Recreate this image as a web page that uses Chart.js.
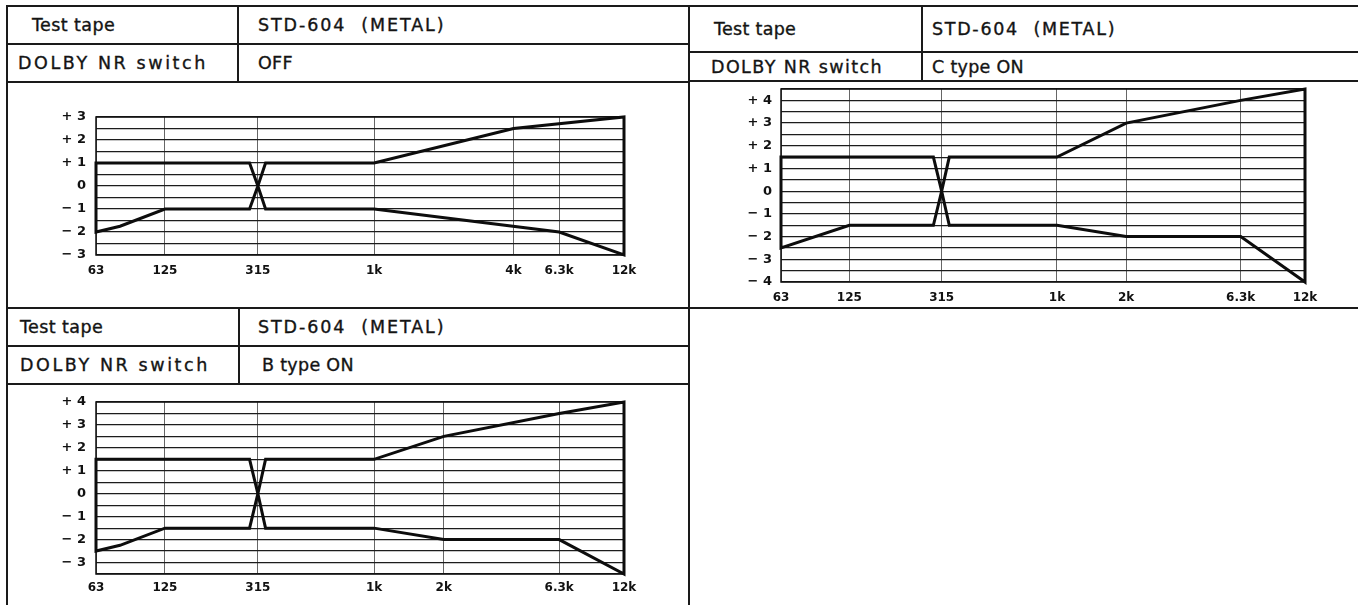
<!DOCTYPE html>
<html>
<head>
<meta charset="utf-8">
<title>STD-604 (METAL) playback response limits</title>
<script src="https://cdn.jsdelivr.net/npm/chart.js@4.4.1/dist/chart.umd.min.js"></script>
<style>
  html, body { margin: 0; padding: 0; background: #fff; }
  #page { position: relative; width: 1358px; height: 605px; overflow: hidden; background: #fff; }
  .ln { position: absolute; background: #1a1a1a; }
  .cell { position: absolute; display: flex; align-items: center; white-space: pre;
          font-family: "DejaVu Sans", sans-serif; font-size: 17.5px; color: #141414;
          -webkit-text-stroke: 0.35px #141414; }
  canvas { position: absolute; }
</style>
</head>
<body>
<div id="page"></div>
<script>
// ---- table text ----
const tapeLabel = 'Test tape';
const tapeName = 'STD-604  (METAL)';
const nrLabel = 'DOLBY NR switch';
const nrModes = ['OFF', 'C type ON', 'B type ON'];

// ---- frequency axis (Hz) and its labels, per graph ----
const offXTicks = [63, 125, 315, 1000, 4000, 6300, 12000];
const offXLabels = ['63', '125', '315', '1k', '4k', '6.3k', '12k'];
const cXTicks = [63, 125, 315, 1000, 2000, 6300, 12000];
const cXLabels = ['63', '125', '315', '1k', '2k', '6.3k', '12k'];
const bXTicks = [63, 125, 315, 1000, 2000, 6300, 12000];
const bXLabels = ['63', '125', '315', '1k', '2k', '6.3k', '12k'];

// ---- level axis (dB): labelled values and their texts ----
const offYValues = [3, 2, 1, 0, -1, -2, -3];
const offYLabels = ['+ 3', '+ 2', '+ 1', '0', '− 1', '− 2', '− 3'];
const cYValues = [4, 3, 2, 1, 0, -1, -2, -3, -4];
const cYLabels = ['+ 4', '+ 3', '+ 2', '+ 1', '0', '− 1', '− 2', '− 3', '− 4'];
const bYValues = [4, 3, 2, 1, 0, -1, -2, -3];
const bYLabels = ['+ 4', '+ 3', '+ 2', '+ 1', '0', '− 1', '− 2', '− 3'];
const offYRange = [-3, 3];
const cYRange = [-4, 4.5];
const bYRange = [-3.5, 4];

// ---- tolerance limits, Dolby NR OFF ----
const offUpperHz = [63, 290, 315, 340, 1000, 4000, 12000];
const offUpperDb = [1, 1, 0, 1, 1, 2.5, 3];
const offLowerHz = [63, 80, 125, 290, 315, 340, 1000, 6300, 12000];
const offLowerDb = [-2, -1.75, -1, -1, 0, -1, -1, -2, -3];

// ---- tolerance limits, Dolby C ----
const cUpperHz = [63, 290, 315, 340, 1000, 2000, 6300, 12000];
const cUpperDb = [1.5, 1.5, 0, 1.5, 1.5, 3, 4, 4.5];
const cLowerHz = [63, 125, 290, 315, 340, 1000, 2000, 6300, 12000];
const cLowerDb = [-2.5, -1.5, -1.5, 0, -1.5, -1.5, -2, -2, -4];

// ---- tolerance limits, Dolby B ----
const bUpperHz = [63, 290, 315, 340, 1000, 2000, 6300, 12000];
const bUpperDb = [1.5, 1.5, 0, 1.5, 1.5, 2.5, 3.5, 4];
const bLowerHz = [63, 80, 125, 290, 315, 340, 1000, 2000, 6300, 12000];
const bLowerDb = [-2.5, -2.25, -1.5, -1.5, 0, -1.5, -1.5, -2, -2, -3.5];

// ---------------------------------------------------------------
const page = document.getElementById('page');

function hline(x0, x1, y, w) {
  const d = document.createElement('div');
  d.className = 'ln';
  d.style.cssText = `left:${x0}px;top:${y}px;width:${x1 - x0}px;height:${w || 2}px`;
  page.appendChild(d);
}
function vline(x, y0, y1, w) {
  const d = document.createElement('div');
  d.className = 'ln';
  d.style.cssText = `left:${x}px;top:${y0}px;width:${w || 2}px;height:${y1 - y0}px`;
  page.appendChild(d);
}
function cell(x, y0, y1, text, spacing) {
  const d = document.createElement('div');
  d.className = 'cell';
  d.style.cssText = `left:${x}px;top:${y0}px;height:${y1 - y0}px;letter-spacing:${spacing}px`;
  d.textContent = text;
  page.appendChild(d);
}

// ruled frame of the sheet
hline(6, 1358, 5);
hline(6, 689, 43);
hline(6, 689, 81);
hline(689, 1358, 51);
hline(689, 1358, 80);
hline(6, 1358, 307);
hline(6, 689, 345);
hline(6, 689, 383);
vline(6, 5, 605);
vline(688, 5, 605);
vline(237, 5, 82);
vline(921, 5, 81);
vline(238, 307, 384);

// header cells
cell(32, 7, 43, tapeLabel, 0.4);
cell(258, 7, 43, tapeName, 1.9);
cell(18, 45, 81, nrLabel, 2.6);
cell(258, 45, 81, nrModes[0], 0.3);

cell(714, 7, 51, tapeLabel, 0.3);
cell(932, 7, 51, tapeName, 1.7);
cell(711, 53, 80, nrLabel, 1.4);
cell(932, 53, 80, nrModes[1], 0.3);

cell(20, 309, 345, tapeLabel, 0.4);
cell(258, 309, 345, tapeName, 1.9);
cell(20, 347, 383, nrLabel, 2.6);
cell(262, 347, 383, nrModes[2], 0.3);

// ---------------------------------------------------------------
// outline of the tolerance window: upper limit left→right, lower limit right→left
function outline(uHz, uDb, lHz, lDb) {
  const pts = uHz.map((f, i) => ({ x: f, y: uDb[i] }));
  for (let i = lHz.length - 1; i >= 0; i--) pts.push({ x: lHz[i], y: lDb[i] });
  pts.push({ x: uHz[0], y: uDb[0] });
  return pts;
}

const plotFrame = {
  id: 'plotFrame',
  beforeDatasetsDraw(chart) {
    const a = chart.chartArea, c = chart.ctx;
    c.save();
    c.strokeStyle = '#111';
    c.lineWidth = 1.5;
    c.strokeRect(a.left, a.top, a.right - a.left, a.bottom - a.top);
    c.restore();
  }
};

function graph(box, xTicks, xLabels, yValues, yLabels, yRange, pts) {
  const cv = document.createElement('canvas');
  cv.width = box.w; cv.height = box.h;
  cv.style.left = box.left + 'px';
  cv.style.top = box.top + 'px';
  page.appendChild(cv);

  // half-dB rulings between the range ends
  const rulings = [];
  for (let v = yRange[0]; v <= yRange[1] + 1e-9; v += 0.5) rulings.push({ value: v });

  new Chart(cv, {
    type: 'scatter',
    data: {
      datasets: [{
        label: 'tolerance',
        data: pts,
        showLine: true,
        borderColor: '#0d0d0d',
        borderWidth: 3,
        borderJoinStyle: 'miter',
        borderCapStyle: 'square',
        pointRadius: 0,
        pointHoverRadius: 0,
        tension: 0,
        clip: false
      }]
    },
    options: {
      responsive: false,
      animation: false,
      devicePixelRatio: 1,
      events: [],
      layout: { padding: { left: 0, top: box.padTop, right: box.padRight, bottom: 0 } },
      plugins: { legend: { display: false }, tooltip: { enabled: false } },
      scales: {
        x: {
          type: 'logarithmic',
          min: xTicks[0],
          max: xTicks[xTicks.length - 1],
          afterBuildTicks: s => { s.ticks = xTicks.map(v => ({ value: v })); },
          afterFit: s => { s.height = box.xHeight; s.paddingLeft = 0; s.paddingRight = 0; },
          border: { display: false },
          grid: { color: '#666', lineWidth: 1, drawTicks: false },
          ticks: {
            autoSkip: false, maxRotation: 0, minRotation: 0,
            padding: box.xPad,
            color: '#111',
            font: { family: 'DejaVu Sans', size: 12, weight: 'bold' },
            callback: (v, i) => xLabels[i]
          }
        },
        y: {
          type: 'linear',
          min: yRange[0],
          max: yRange[1],
          afterBuildTicks: s => { s.ticks = rulings.map(t => ({ value: t.value })); },
          afterFit: s => { s.width = box.yWidth; s.paddingTop = 0; s.paddingBottom = 0; },
          border: { display: false },
          grid: { color: '#1c1c1c', lineWidth: 1.2, drawTicks: false },
          ticks: {
            autoSkip: false,
            padding: box.yPad,
            color: '#111',
            font: { family: 'DejaVu Sans', size: 13, weight: 'bold' },
            callback: v => {
              const k = yValues.findIndex(y => Math.abs(y - v) < 1e-6);
              return k < 0 ? '' : yLabels[k];
            }
          }
        }
      }
    },
    plugins: [plotFrame]
  });
}

graph({ left: 8, top: 83, w: 680, h: 223, yWidth: 88, padTop: 34, padRight: 64, xHeight: 51, xPad: 9, yPad: 10 },
      offXTicks, offXLabels, offYValues, offYLabels, offYRange,
      outline(offUpperHz, offUpperDb, offLowerHz, offLowerDb));

graph({ left: 690, top: 83, w: 668, h: 223, yWidth: 91, padTop: 6, padRight: 53, xHeight: 24, xPad: 9, yPad: 9 },
      cXTicks, cXLabels, cYValues, cYLabels, cYRange,
      outline(cUpperHz, cUpperDb, cLowerHz, cLowerDb));

graph({ left: 8, top: 386, w: 680, h: 219, yWidth: 88, padTop: 16, padRight: 64, xHeight: 31, xPad: 7, yPad: 10 },
      bXTicks, bXLabels, bYValues, bYLabels, bYRange,
      outline(bUpperHz, bUpperDb, bLowerHz, bLowerDb));
</script>
</body>
</html>
